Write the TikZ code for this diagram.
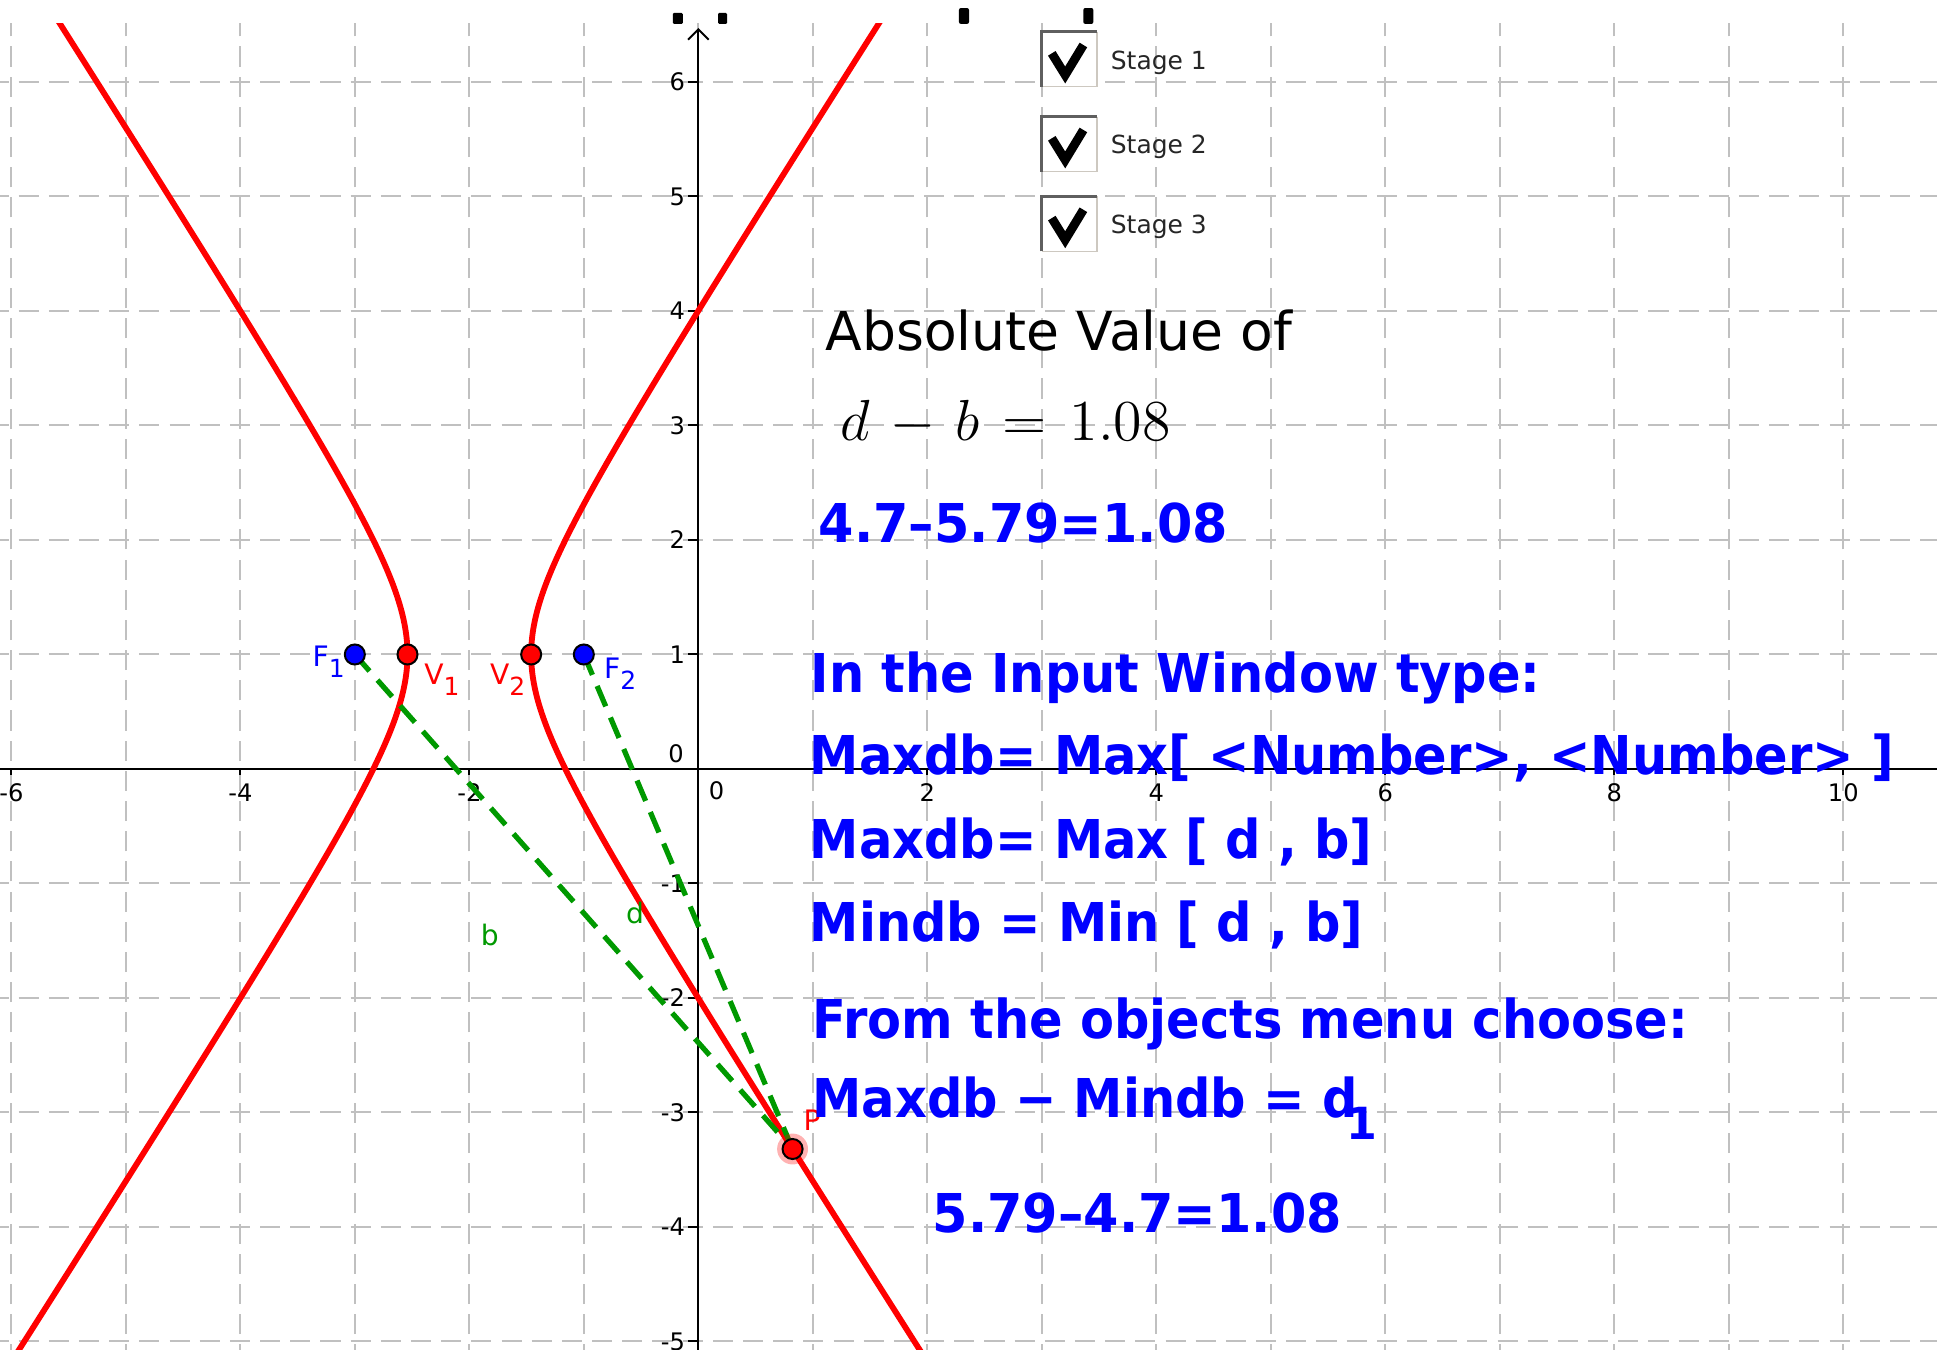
\documentclass[tikz,border=0pt]{standalone}
\usepackage[no-math]{fontspec}
\usetikzlibrary{arrows.meta}
\setmainfont{DejaVu Sans}
\newfontfamily\labfont{DejaVu Sans}
\newfontfamily\bluefont[FakeStretch=0.925]{DejaVu Sans}
\newfontfamily\numfont[FakeStretch=0.95]{DejaVu Sans}
\definecolor{ggred}{RGB}{255,0,0}
\definecolor{ggblue}{RGB}{0,0,255}
\definecolor{gggreen}{RGB}{0,153,0}
\definecolor{gridgray}{RGB}{192,192,192}
\definecolor{boxdark}{RGB}{95,95,95}
\definecolor{boxlight}{RGB}{205,200,192}
\newcommand\lsub[1]{\raisebox{-2.7pt}{\fontsize{6.2}{7}\selectfont #1}}
\begin{document}
\begin{tikzpicture}[x=1cm,y=1cm,
  gridline/.style={gridgray, line width=0.5pt, dash pattern=on 5pt off 2.5pt},
  axisline/.style={black, line width=0.5pt},
  curve/.style={ggred, line width=1.45pt},
  seg/.style={gggreen, line width=1.3pt, dash pattern=on 5.5pt off 3pt},
  fpt/.style={circle, fill=ggblue, draw=black, line width=0.5pt, inner sep=0pt, minimum size=0.175cm},
  vpt/.style={fpt, fill=ggred},
  axlab/.style={inner sep=0pt, font=\labfont\fontsize{6}{7}\selectfont},
  ptlab/.style={inner sep=0pt, anchor=base west, font=\labfont\fontsize{7}{8}\selectfont},
  bluetext/.style={inner sep=0pt, anchor=base west, text=ggblue, font=\bluefont\bfseries\fontsize{13.3}{16}\selectfont},
  numtext/.style={bluetext, font=\numfont\bfseries\fontsize{13.3}{16}\selectfont},
  blacktext/.style={inner sep=0pt, anchor=base west, text=black, font=\labfont\fontsize{13.3}{16}\selectfont},
  stagelab/.style={inner sep=0pt, anchor=base west, text=black!85, font=\labfont\fontsize{6.2}{7}\selectfont},
  cbox/.style={fill=white},
  checkmark/.style={black, line width=2.2pt, line join=miter},
  topmark/.style={fill=black}
]
\useasboundingbox (-6.099,-5.066) rectangle (10.818,6.716);
\fill[white] (-6.099,-5.066) rectangle (10.818,6.716);
\begin{scope}
\clip (-6.099,-5.066) rectangle (10.818,6.507);
% grid
\foreach \i in {-6,...,10} \draw[gridline] (\i,-5.2) -- (\i,6.8);
\foreach \j in {-5,...,6} \draw[gridline] (-6.2,\j) -- (10.9,\j);
% axes
\draw[axisline] (-6.2,0) -- (10.9,0);
\draw[axisline,-{Straight Barb[length=0.9mm,width=1.8mm]}] (0,-5.2) -- (0,6.472);
\foreach \i in {-6,-4,-2,2,4,6,8,10} {
  \draw[axisline] (\i,0) -- (\i,-0.055);
  \node[axlab] (xl\i) at (\i,-0.21) {\i};
}
\foreach \j in {-5,-4,-3,-2,-1,1,2,3,4,5,6} {
  \draw[axisline] (0,\j) -- (-0.087,\j);
  \node[axlab, anchor=east] (yl\j) at (-0.11,\j) {\j};
}
\node[axlab] (y0) at (-0.195,0.135) {0};
\node[axlab] (x0) at (0.159,-0.19) {0};
% hyperbola
\draw[curve] plot[domain=-2.8:2.8, samples=220, variable=\t] ({-2-0.54*cosh(\t)}, {1+0.8417*sinh(\t)});
\draw[curve] plot[domain=-2.8:2.8, samples=220, variable=\t] ({-2+0.54*cosh(\t)}, {1+0.8417*sinh(\t)});
% points
\coordinate (F1) at (-3,1);
\coordinate (F2) at (-1,1);
\coordinate (V1) at (-2.54,1);
\coordinate (V2) at (-1.46,1);
\coordinate (P) at (0.823,-3.319);
\draw[seg] (F1) -- (P);
\draw[seg] (F2) -- (P);
\fill[ggred, opacity=0.3] (P) circle (0.135);
\node[fpt] (F1pt) at (F1) {};
\node[fpt] (F2pt) at (F2) {};
\node[vpt] (V1pt) at (V1) {};
\node[vpt] (V2pt) at (V2) {};
\node[vpt] (Ppt) at (P) {};
% point labels
\node[ptlab, text=ggblue] (lF1) at (-3.376,0.892) {F\lsub{1}};
\node[ptlab, text=ggblue] (lF2) at (-0.83,0.79) {F\lsub{2}};
\node[ptlab, text=ggred] (lV1) at (-2.40,0.734) {V\lsub{1}};
\node[ptlab, text=ggred] (lV2) at (-1.825,0.734) {V\lsub{2}};
\node[ptlab, text=ggred] (lP) at (0.913,-3.153) {P};
\node[ptlab, anchor=center, text=gggreen] (lb) at (-1.82,-1.45) {b};
\node[ptlab, anchor=center, text=gggreen] (ld) at (-0.553,-1.258) {d};
% texts
\node[blacktext] (abs) at (1.105,3.659) {Absolute Value of};
\node[inner sep=0pt, anchor=base west, font=\fontsize{14.8}{18}\selectfont] (eq) at (1.236,2.873) {\medmuskip=6.2mu \thickmuskip=7.2mu $d-b=1.08$};
\node[numtext] (t1) at (1.045,1.974) {4.7–5.79=1.08};
\node[bluetext] (t2) at (0.976,0.672) {In the Input Window type:};
\node[bluetext] (t3) at (0.967,-0.052) {Maxdb= Max[ <Number>, <Number> ]};
\node[bluetext] (t4) at (0.967,-0.786) {Maxdb= Max [ d , b]};
\node[bluetext] (t5) at (0.967,-1.511) {Mindb = Min [ d , b]};
\node[bluetext] (t6) at (0.99,-2.358) {From the objects menu choose:};
\node[bluetext] (t7) at (0.99,-3.048) {Maxdb − Mindb = d};
\node[inner sep=0pt, anchor=base west, text=ggblue, font=\labfont\bfseries\fontsize{11}{13}\selectfont] (t7s) at (5.657,-3.24) {1};
\node[numtext] (t8) at (2.041,-4.052) {5.79–4.7=1.08};
% checkboxes
\foreach \tp/\s/\bl in {6.439/1/6.105, 5.697/2/5.377, 5.0/3/4.679} {
  \fill[cbox] (3,\tp) rectangle ++(0.481,-0.48);
  \draw[boxlight, line width=0.4pt] (3,\tp-0.48) -- ++(0.481,0) -- ++(0,0.48);
  \draw[boxdark, line width=0.7pt] (3,\tp-0.48) -- (3,\tp) -- ++(0.481,0);
  \draw[checkmark] (3.087,\tp-0.189) -- (3.204,\tp-0.378) -- (3.363,\tp-0.116);
  \node[stagelab] (stage\s) at (3.596,\bl) {Stage \s};
}
\end{scope}
% black marks at the top edge
\fill[topmark, rounded corners=0.3pt] (-0.223,6.507) rectangle (-0.135,6.603);
\fill[topmark, rounded corners=0.3pt] (0.172,6.507) rectangle (0.251,6.603);
\fill[topmark, rounded corners=0.5pt] (2.276,6.507) rectangle (2.364,6.646);
\fill[topmark, rounded corners=0.5pt] (3.362,6.507) rectangle (3.45,6.646);
\end{tikzpicture}
\end{document}
